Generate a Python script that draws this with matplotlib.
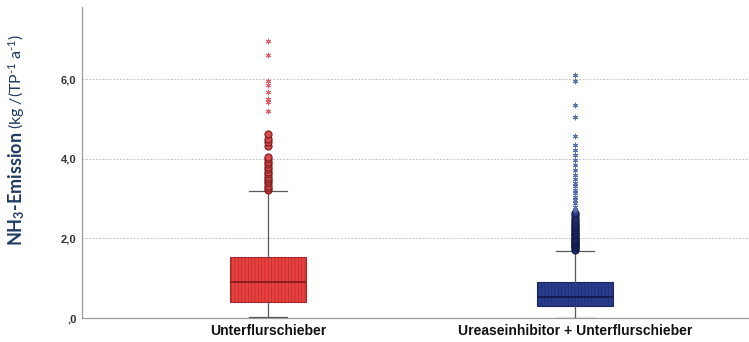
import matplotlib
matplotlib.use("Agg")
import matplotlib.pyplot as plt

# Groups and summary statistics (kg per animal place and year)
groups = ["Unterflurschieber", "Ureaseinhibitor + Unterflurschieber"]
q1 = [0.39, 0.30]
median = [0.91, 0.52]
q3 = [1.54, 0.90]
whisker_low = [0.02, 0.00]
whisker_high = [3.19, 1.69]

# Outliers (circles) and extreme values (stars)
red_outliers = [3.22, 3.27, 3.32, 3.38, 3.44, 3.49, 3.55, 3.61, 3.67, 3.73,
                3.80, 3.87, 3.93, 4.00, 4.05, 4.33, 4.41, 4.50, 4.61]
red_extremes = [5.20, 5.42, 5.50, 5.68, 5.85, 5.95, 6.60, 6.95]
blue_outliers = [1.72, 1.75, 1.78, 1.80, 1.83, 1.85, 1.88, 1.90, 1.93, 1.96,
                 1.99, 2.02, 2.05, 2.08, 2.11, 2.14, 2.18, 2.21, 2.25, 2.29,
                 2.33, 2.37, 2.42, 2.47, 2.52, 2.58, 2.64]
blue_extremes = [2.72, 2.80, 2.88, 2.97, 3.05, 3.14, 3.22, 3.31, 3.40, 3.50,
                 3.60, 3.72, 3.84, 3.97, 4.10, 4.22, 4.35, 4.56, 5.04, 5.35,
                 5.94, 6.10]

y_ticks = [0, 2, 4, 6]
y_ticklabels = [",0", "2,0", "4,0", "6,0"]

box_colors = ["#E8403E", "#2A3C8E"]
box_edges = ["#A32A2A", "#1B2560"]
median_colors = ["#8E1E1E", "#141C50"]
circle_face = ["#D9494A", "#27397F"]
circle_edge = ["#7A1C1C", "#111A4A"]
star_colors = ["#E0606A", "#5A6FB0"]

plt.rcParams["hatch.linewidth"] = 0.35
plt.rcParams["mathtext.fontset"] = "custom"
plt.rcParams["mathtext.rm"] = "Lato"
plt.rcParams["mathtext.it"] = "Lato:italic"
plt.rcParams["mathtext.bf"] = "Lato:bold"

fig = plt.figure(figsize=(7.49, 3.42), dpi=100)
ax = fig.add_axes([82 / 749, 24 / 342, 667 / 749, 311 / 342])

positions = [1, 2]
stats = []
for i, name in enumerate(groups):
    stats.append(dict(label=name, q1=q1[i], med=median[i], q3=q3[i],
                      whislo=whisker_low[i], whishi=whisker_high[i], fliers=[]))

bp = ax.bxp(stats, positions=positions, widths=0.25, showfliers=False,
            patch_artist=True, zorder=3)
for i, box in enumerate(bp["boxes"]):
    box.set_facecolor(box_colors[i])
    box.set_edgecolor(box_edges[i])
    box.set_linewidth(0.8)
    box.set_hatch("|||||")
for i, med in enumerate(bp["medians"]):
    med.set_color(median_colors[i])
    med.set_linewidth(1.4)
for w in bp["whiskers"]:
    w.set_color("#5a5a5a")
    w.set_linewidth(0.9)
for c in bp["caps"]:
    c.set_color("#5a5a5a")
    c.set_linewidth(0.9)
    xd = c.get_xdata()
    mid = (xd[0] + xd[1]) / 2
    c.set_xdata([mid - 0.062, mid + 0.062])

circles = [red_outliers, blue_outliers]
stars = [red_extremes, blue_extremes]
for i, pos in enumerate(positions):
    ax.scatter([pos] * len(circles[i]), circles[i], s=26, marker="o",
               facecolor=circle_face[i], edgecolor=circle_edge[i],
               linewidth=0.8, zorder=4)
    ax.scatter([pos] * len(stars[i]), stars[i], s=12, marker=(6, 2, 0),
               color=star_colors[i], linewidth=0.7, zorder=4)

ax.set_xlim(0.394, 2.567)
ax.set_ylim(0, 7.81)
ax.set_yticks(y_ticks)
ax.set_yticklabels(y_ticklabels, fontsize=8, fontweight="bold",
                   color="#333333", family="Liberation Sans")
ax.set_xticks(positions)
ax.set_xticklabels(groups, fontsize=10, fontweight="bold", color="#111111",
                   family="Liberation Sans")
ax.tick_params(axis="both", length=0)
ax.tick_params(axis="y", pad=4)
ax.tick_params(axis="x", pad=4)

for y in y_ticks[1:]:
    ax.axhline(y, color="#c4c4c4", linewidth=0.7, linestyle=(0, (2, 1.5)),
               zorder=1)

for side in ["top", "right"]:
    ax.spines[side].set_visible(False)
for side in ["left", "bottom"]:
    ax.spines[side].set_color("#9a9a9a")
    ax.spines[side].set_linewidth(0.9)

# Y axis title: bold quantity name followed by the unit in regular weight
label_color = "#1F3A64"
t1 = fig.text(17 / 749, 1 - 246 / 342, r"NH$_\mathbf{3}$-Emission",
              rotation=90, ha="center", va="bottom", fontsize=13,
              fontweight="bold", color=label_color, family="Lato")
fig.canvas.draw()
bb = t1.get_window_extent(renderer=fig.canvas.get_renderer())
fig.text(17 / 749, (bb.y1 + 3) / 342,
         r"(kg /(TP$^{\text{-}1}$ a$^{\text{-}1}$)",
         rotation=90, ha="center", va="bottom", fontsize=11.5,
         color=label_color, family="Lato")

fig.savefig("out.png", dpi=100)
